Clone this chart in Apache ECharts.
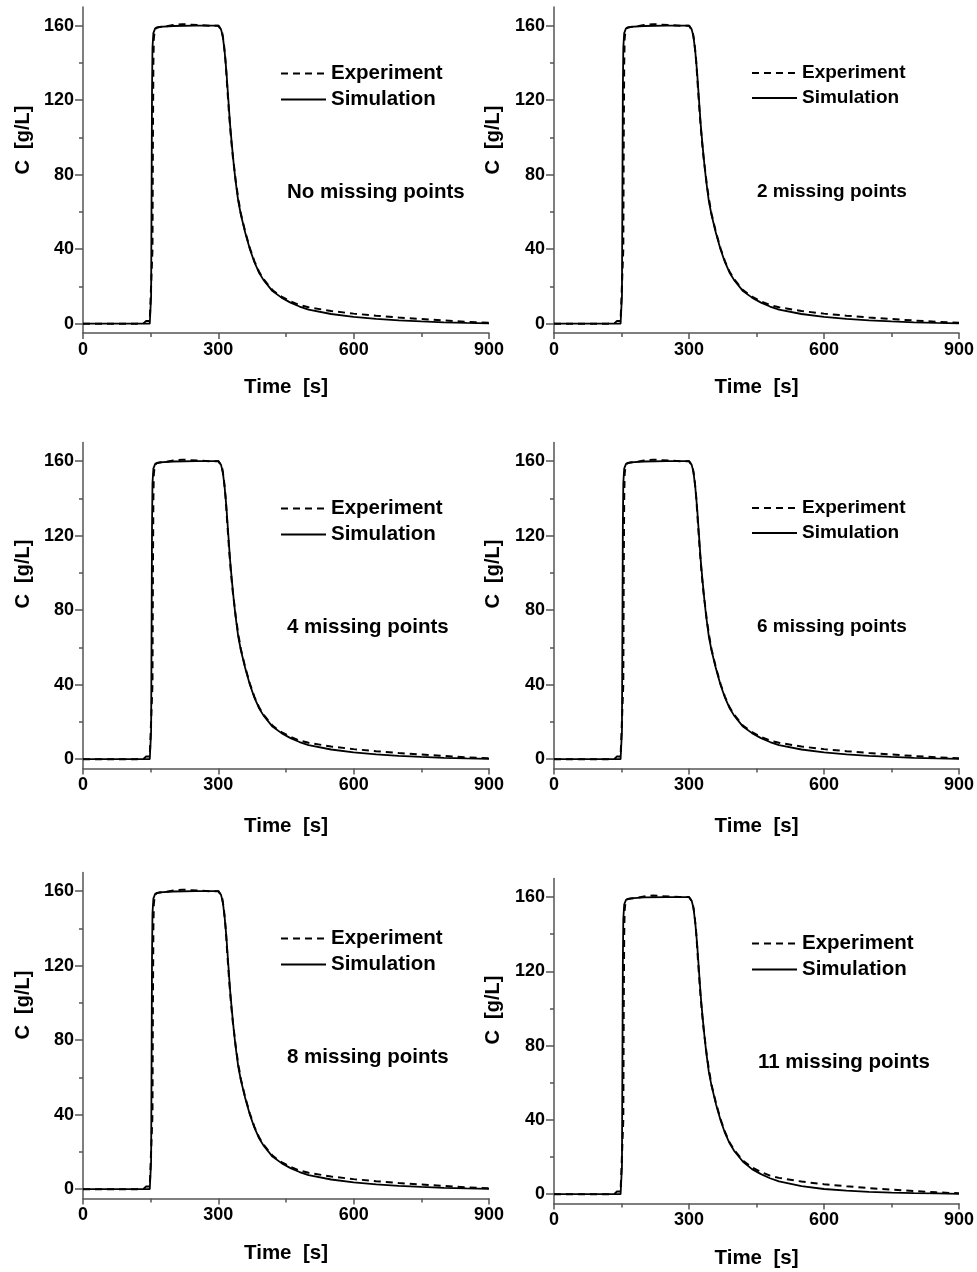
<!DOCTYPE html>
<html>
<head>
<meta charset="utf-8">
<script src="https://cdn.jsdelivr.net/npm/echarts@6/dist/echarts.min.js"></script>
<style>
  html, body { margin: 0; padding: 0; background: #fff; }
  #chart { width: 977px; height: 1272px; }
</style>
</head>
<body>
<div id="chart"></div>
<script>
// Measured breakthrough curve (shared by all panels)
const timeExp = [0, 60, 120, 135, 140, 144, 148, 152, 154, 155,
                 156, 157, 159, 163, 180, 200, 220, 240, 260, 280,
                 300, 304, 308, 312, 316, 320, 324, 328, 332, 336,
                 340, 345, 350, 360, 370, 380, 390, 400, 420, 440,
                 460, 480, 500, 550, 600, 650, 700, 750, 800, 850,
                 900];
const experiment = [0, 0, 0, 0.3, 1.5, 2.2, 1.5, 2.5, 40, 100,
                    140, 153, 157.5, 159, 159.5, 160.3, 160.8, 160.5, 160.2, 160,
                    160, 159.3, 157, 151, 141, 126, 112, 100, 90, 82,
                    74, 66, 59, 49, 40.5, 33.5, 28, 24, 18, 14.5,
                    12, 10, 8.8, 6.8, 5.4, 4.3, 3.3, 2.5, 1.7, 1.0,
                    0.5];

// Simulated curve
const timeSim = [0, 100, 148, 150, 151, 152, 153, 154, 156, 160,
                 170, 200, 250, 300, 303, 306, 310, 314, 318, 322,
                 326, 330, 334, 338, 344, 350, 360, 370, 380, 390,
                 400, 420, 440, 460, 480, 500, 550, 600, 650, 700,
                 750, 800, 850, 900];
const simulation = [0, 0, 0, 0.5, 15, 70, 125, 148, 156, 158.5,
                    159.3, 159.8, 160, 160, 159.4, 158, 154, 146, 135, 121,
                    107, 96, 86, 77, 66, 58.5, 48.5, 40, 33, 27.5,
                    23.5, 17.5, 14, 11.3, 9.2, 7.6, 5.2, 3.7, 2.6, 1.8,
                    1.2, 0.7, 0.4, 0.2];
// Simulation with 11 missing points (slightly faster tail)
const simulation11 = [0, 0, 0, 0.5, 15, 70, 125, 148, 156, 158.5,
                      159.3, 159.8, 160, 160, 159.4, 158, 154, 146, 135, 121,
                      107, 96, 86, 77, 66, 58.5, 48.5, 40, 33, 27.5,
                      23.5, 17.5, 13.5, 10.8, 8.6, 6.9, 4.3, 2.8, 1.9, 1.3,
                      0.9, 0.6, 0.4, 0.2];

// Axis ticks
const xMin = 0, xMax = 900, xInterval = 300;
const yMin = -5, yMax = 170;
const yMajorTicks = [0, 40, 80, 120, 160];
const yMinorTicks = [20, 60, 100, 140];

// Panel captions
const captions = ['No missing points', '2 missing points', '4 missing points',
                  '6 missing points', '8 missing points', '11 missing points'];
const simSets = [simulation, simulation, simulation, simulation, simulation, simulation11];

// Panel layout (pixels)
const layout = [
  { grid: { left: 83,  top: 7,     width: 406, height: 326 }, yName: [23, 140],   note: [287, 192],  legend: [280, 63],  fs: 20.5, gap: 44 },
  { grid: { left: 554, top: 7,     width: 405, height: 326 }, yName: [493, 140],  note: [757, 192],  legend: [751, 63],  fs: 19,   gap: 44 },
  { grid: { left: 83,  top: 442.5, width: 406, height: 326 }, yName: [23, 574],   note: [287, 627],  legend: [280, 498], fs: 20.5, gap: 47 },
  { grid: { left: 554, top: 442.5, width: 405, height: 326 }, yName: [493, 574],  note: [757, 627],  legend: [751, 498], fs: 19,   gap: 47 },
  { grid: { left: 83,  top: 872.5, width: 406, height: 326 }, yName: [23, 1005],  note: [287, 1057], legend: [280, 928], fs: 20.5, gap: 44 },
  { grid: { left: 554, top: 878.5, width: 405, height: 325 }, yName: [493, 1010], note: [758, 1062], legend: [751, 933], fs: 20.5, gap: 44 }
];

const FONT = '"Liberation Sans", Arial, Helvetica, sans-serif';
const AXIS_COLOR = '#555';
const axisLineStyle = { color: AXIS_COLOR, width: 1.5 };

const option = {
  animation: false,
  backgroundColor: '#fff',
  textStyle: { fontFamily: FONT },
  grid: [], xAxis: [], yAxis: [], series: [], legend: [], graphic: []
};

layout.forEach((p, i) => {
  option.grid.push(Object.assign({ containLabel: false }, p.grid));

  option.xAxis.push({
    gridIndex: i, type: 'value', min: xMin, max: xMax, interval: xInterval,
    axisLine: { show: true, onZero: false, lineStyle: axisLineStyle },
    axisTick: { show: true, inside: false, length: 6, lineStyle: axisLineStyle },
    minorTick: { show: true, splitNumber: 2, length: 4, lineStyle: axisLineStyle },
    splitLine: { show: false }, minorSplitLine: { show: false },
    axisLabel: { margin: 8, fontSize: 18, fontWeight: 'bold', color: '#000', fontFamily: FONT },
    name: 'Time  [s]', nameLocation: 'middle', nameGap: p.gap,
    nameTextStyle: { fontSize: 20.5, fontWeight: 'bold', color: '#000', fontFamily: FONT }
  });

  // main value axis
  option.yAxis.push({
    gridIndex: i, type: 'value', min: yMin, max: yMax,
    axisLine: { show: true, onZero: false, lineStyle: axisLineStyle },
    axisTick: { show: true, inside: false, length: 8, customValues: yMajorTicks, lineStyle: axisLineStyle },
    axisLabel: { customValues: yMajorTicks, margin: 9, fontSize: 18, fontWeight: 'bold', color: '#000', fontFamily: FONT },
    splitLine: { show: false }
  });
  // minor ticks on the same side
  option.yAxis.push({
    gridIndex: i, type: 'value', min: yMin, max: yMax, position: 'left',
    axisLine: { show: false, onZero: false },
    axisTick: { show: true, inside: false, length: 4, customValues: yMinorTicks, lineStyle: axisLineStyle },
    axisLabel: { show: false },
    splitLine: { show: false }
  });

  option.series.push({
    type: 'line', name: 'Experiment', xAxisIndex: i, yAxisIndex: 2 * i,
    data: timeExp.map((t, k) => [t, experiment[k]]),
    symbol: 'none', showSymbol: false, silent: true, z: 3,
    lineStyle: { color: '#000', width: 2, type: [7, 5] },
    itemStyle: { color: '#000' }
  });
  const sim = simSets[i];
  option.series.push({
    type: 'line', name: 'Simulation', xAxisIndex: i, yAxisIndex: 2 * i,
    data: timeSim.map((t, k) => [t, sim[k]]),
    symbol: 'none', showSymbol: false, silent: true, z: 2,
    lineStyle: { color: '#000', width: 1.8, type: 'solid' },
    itemStyle: { color: '#000' }
  });

  option.legend.push({
    show: true, orient: 'vertical', left: p.legend[0], top: p.legend[1],
    padding: 0, itemWidth: 45, itemHeight: 14, itemGap: 5,
    selectedMode: false, data: ['Experiment', 'Simulation'],
    // line-only keys: hide the marker drawn in the middle of each key
    itemStyle: { color: 'rgba(0,0,0,0)', borderWidth: 0, opacity: 0 },
    textStyle: { fontSize: p.fs, fontWeight: 'bold', color: '#000', lineHeight: 20, fontFamily: FONT }
  });

  option.graphic.push({
    type: 'text', x: p.yName[0], y: p.yName[1], rotation: Math.PI / 2, silent: true,
    style: { text: 'C  [g/L]', fontSize: 20, fontWeight: 'bold', fontFamily: FONT,
             fill: '#000', align: 'center', verticalAlign: 'middle' }
  });
  option.graphic.push({
    type: 'text', x: p.note[0], y: p.note[1], silent: true,
    style: { text: captions[i], fontSize: p.fs, fontWeight: 'bold', fontFamily: FONT,
             fill: '#000', align: 'left', verticalAlign: 'middle' }
  });
});

const chart = echarts.init(document.getElementById('chart'), null, { renderer: 'canvas' });
chart.setOption(option);
</script>
</body>
</html>
